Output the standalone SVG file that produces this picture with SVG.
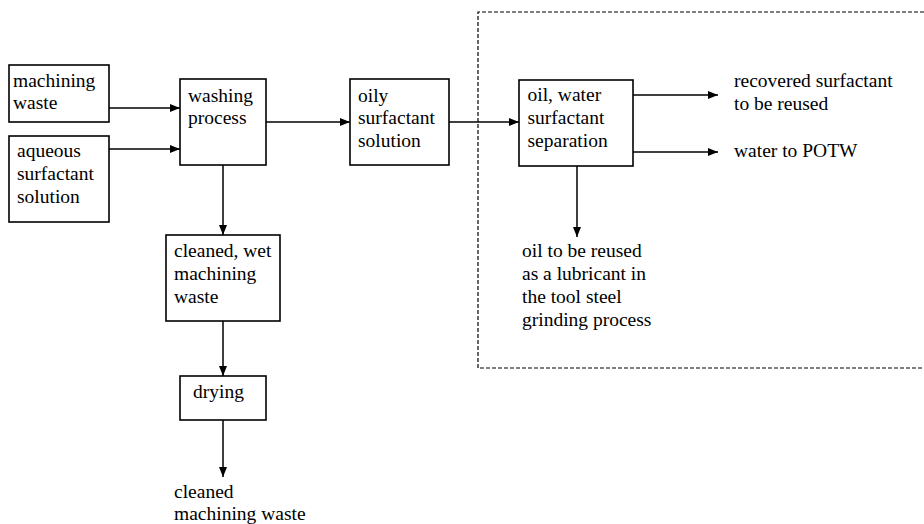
<svg xmlns="http://www.w3.org/2000/svg" width="924" height="524" viewBox="0 0 924 524">
<style>
.box{fill:#fff;stroke:#000;stroke-width:1.6}
.t{font-family:'Liberation Serif','Times New Roman',serif;font-size:19.5px;fill:#000}
.c{stroke:#000;stroke-width:1.5;fill:none;marker-end:url(#ah)}
.dash{fill:none;stroke:#000;stroke-width:1.2;stroke-dasharray:4 2}
</style>
<defs>
<marker id="ah" viewBox="0 0 10 8" refX="10" refY="4" markerWidth="10" markerHeight="8" markerUnits="userSpaceOnUse" orient="auto">
<path d="M0,0 L10,4 L0,8 Z" fill="#000"/>
</marker>
</defs>
<rect width="924" height="524" fill="#fff"/>
<path class="dash" d="M930,12 H478 V368 H930"/>
<g id="connectors">
<line class="c" x1="109" y1="108" x2="180" y2="108"/>
<line class="c" x1="109" y1="149" x2="180" y2="149"/>
<line class="c" x1="266" y1="122" x2="350" y2="122"/>
<line class="c" x1="449" y1="122" x2="519" y2="122"/>
<line class="c" x1="223" y1="165" x2="223" y2="235"/>
<line class="c" x1="223" y1="321" x2="223" y2="376"/>
<line class="c" x1="223" y1="420" x2="223" y2="477"/>
<line class="c" x1="633" y1="95" x2="718" y2="95"/>
<line class="c" x1="633" y1="152" x2="718" y2="152"/>
<line class="c" x1="577" y1="166" x2="577" y2="237"/>
</g>
<g id="machining-waste">
<rect class="box" x="9" y="65" width="100" height="57"/>
<text class="t" x="13" y="87">machining</text>
<text class="t" x="13" y="109">waste</text>
</g>
<g id="aqueous">
<rect class="box" x="9" y="136" width="100" height="86"/>
<text class="t" x="17" y="157">aqueous</text>
<text class="t" x="17" y="180">surfactant</text>
<text class="t" x="17" y="203">solution</text>
</g>
<g id="washing">
<rect class="box" x="180" y="79" width="86" height="86"/>
<text class="t" x="188" y="102">washing</text>
<text class="t" x="188" y="124">process</text>
</g>
<g id="oily">
<rect class="box" x="350" y="79" width="99" height="86"/>
<text class="t" x="358" y="102">oily</text>
<text class="t" x="358" y="124">surfactant</text>
<text class="t" x="358" y="147">solution</text>
</g>
<g id="separation">
<rect class="box" x="519" y="80" width="114" height="86"/>
<text class="t" x="527.5" y="101">oil, water</text>
<text class="t" x="527.5" y="124">surfactant</text>
<text class="t" x="527.5" y="147">separation</text>
</g>
<g id="recovered">
<text class="t" x="734" y="87">recovered surfactant</text>
<text class="t" x="734" y="110">to be reused</text>
</g>
<g id="water">
<text class="t" x="734" y="157">water to POTW</text>
</g>
<g id="oil-reuse">
<text class="t" x="522" y="257">oil to be reused</text>
<text class="t" x="522" y="280">as a lubricant in</text>
<text class="t" x="522" y="303">the tool steel</text>
<text class="t" x="522" y="326">grinding process</text>
</g>
<g id="cleaned-wet">
<rect class="box" x="166" y="235" width="114" height="86"/>
<text class="t" x="174" y="257">cleaned, wet</text>
<text class="t" x="174" y="280">machining</text>
<text class="t" x="174" y="303">waste</text>
</g>
<g id="drying">
<rect class="box" x="180" y="376" width="86" height="44"/>
<text class="t" x="193" y="398">drying</text>
</g>
<g id="cleaned">
<text class="t" x="174" y="498">cleaned</text>
<text class="t" x="174" y="520">machining waste</text>
</g>
</svg>
